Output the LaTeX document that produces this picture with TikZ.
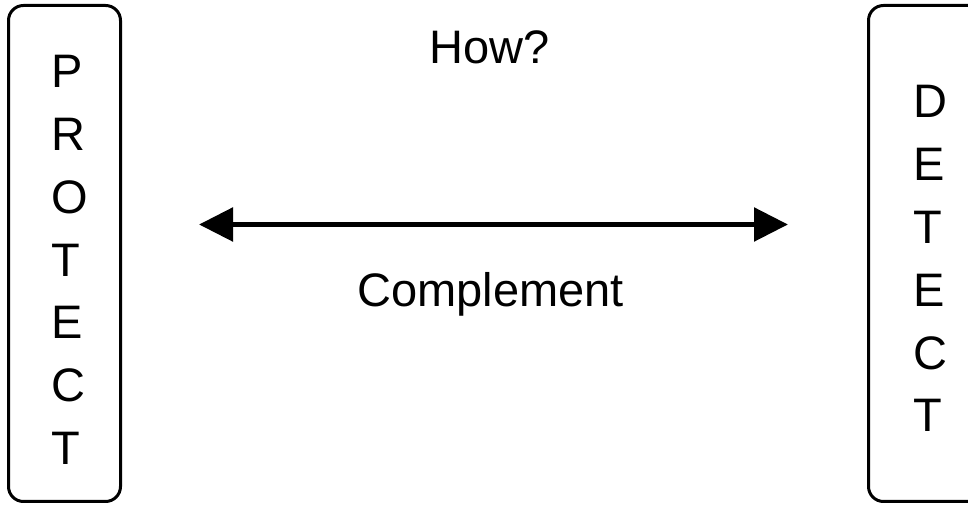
\documentclass[tikz,border=0pt]{standalone}
\usepackage{fontspec}
\setmainfont{Liberation Sans}
\usetikzlibrary{arrows.meta}
\begin{document}
\begin{tikzpicture}[x=1pt,y=1pt,
  box/.style={draw, line width=3pt, rounded corners=15pt, inner sep=0pt},
  letter/.style={inner sep=0pt, anchor=base west, font=\fontsize{47}{63}\selectfont},
  label/.style={inner sep=0pt, anchor=base, font=\fontsize{47}{63}\selectfont},
  dbl/.style={line width=5.5pt, {Triangle[length=34pt,width=33pt]}-{Triangle[length=34pt,width=33pt]}}]
\useasboundingbox (0,0) rectangle (968,505);
\clip (0,0) rectangle (968,505);
\node[box, minimum width=112pt, minimum height=496pt] (protect) at (64.5,251.5) {};
\node[box, minimum width=116.5pt, minimum height=496pt] (detect) at (926.75,251.5) {};
\foreach \l [count=\i from 0] in {P,R,O,T,E,C,T}
  \node[letter] (pl\i) at (51.5, 417-62.7*\i) {\l};
\foreach \l [count=\i from 0] in {D,E,T,E,C,T}
  \node[letter] (dl\i) at (913, 387-62.8*\i) {\l};
\node[label] (how) at (490,441) {How?};
\node[label] (comp) at (490.5,198) {Complement};
\coordinate (aL) at (199,280.5);
\coordinate (aR) at (788,280.5);
\draw[dbl] (aL) -- (aR);
\end{tikzpicture}
\end{document}
